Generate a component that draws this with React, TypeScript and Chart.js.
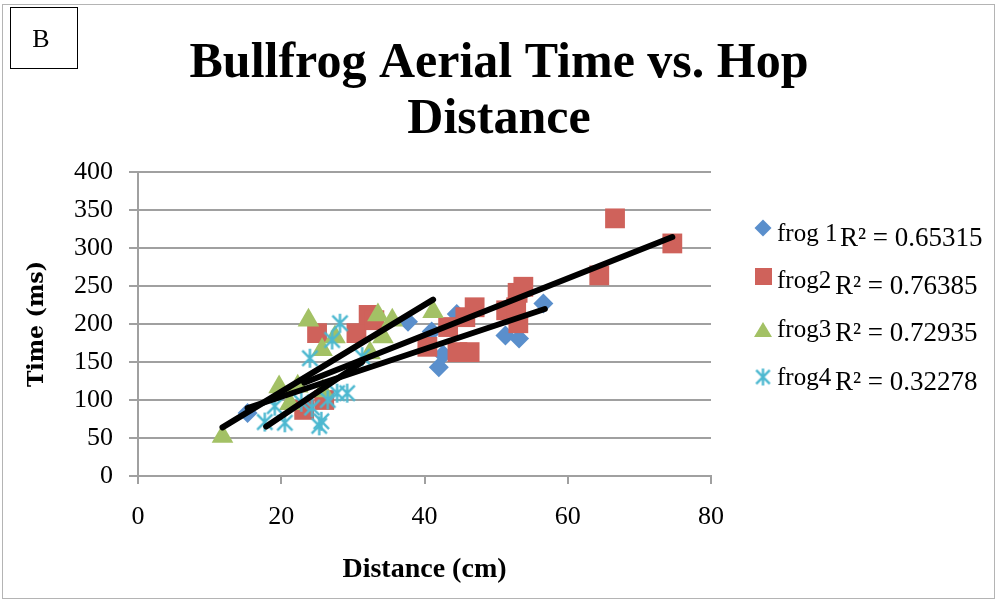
import React, { useEffect, useRef } from "react";
import { Chart, registerables } from "chart.js";

Chart.register(...registerables);

// ---- Data ----
const frog1X = [15.3, 37.7, 41.0, 44.5, 42.0, 42.6, 51.3, 53.2, 56.6];
const frog1Y = [83, 203, 190, 213, 143, 160, 185, 181, 227];

const frog2X = [23.2, 26.0, 25.0, 30.5, 32.2, 33.0, 40.4, 43.3, 45.7, 47.0, 44.6, 46.3, 51.4, 53.0, 53.8, 53.1, 52.8, 64.4, 66.6, 74.6];
const frog2Y = [87, 100, 188, 188, 212, 205, 170, 196, 209, 222, 163, 163, 218, 241, 249, 201, 222, 264, 339, 306];

const frog3X = [11.8, 19.7, 21.2, 22.3, 23.8, 25.8, 25.7, 27.5, 32.4, 33.5, 34.2, 35.5, 41.2];
const frog3Y = [52, 117, 95, 118, 205, 112, 166, 183, 162, 212, 183, 205, 216];

const frog4X = [17.7, 19.1, 20.5, 22.8, 24.0, 24.3, 25.3, 25.6, 26.5, 27.1, 27.8, 28.2, 29.2, 31.3];
const frog4Y = [71, 92, 70, 97, 155, 90, 66, 72, 100, 179, 109, 201, 109, 157];

// Linear trend lines (end points)
const trend1X = [15.3, 56.8];
const trend1Y = [89.5, 219.7];
const trend2X = [23.2, 74.6];
const trend2Y = [122.8, 314.5];
const trend3X = [11.8, 41.2];
const trend3Y = [64, 232];
const trend4X = [17.9, 31.3];
const trend4Y = [65, 150];

const seriesNames = ["frog 1", "frog2", "frog3", "frog4"];
const rSquared = ["R\u00B2 = 0.65315", "R\u00B2 = 0.76385", "R\u00B2 = 0.72935", "R\u00B2 = 0.32278"];

const xTickMin = 0;
const xTickMax = 80;
const xTickStep = 20;
const yTickMin = 0;
const yTickMax = 400;
const yTickStep = 50;

const titleLines = ["Bullfrog Aerial Time vs. Hop", "Distance"];
const xTitle = "Distance (cm)";
const yTitle = "Time (ms)";
const panelLabel = "B";

// ---- Styles ----
const BLUE = "#5a8fcc";
const RED = "#cf625b";
const GREEN = "#a3c165";
const CYAN = "#4cb8d0";
const GRID = "#a0a0a0";
const SERIF = "'Liberation Serif', 'Times New Roman', serif";

function pts(xs: number[], ys: number[]) {
  return xs.map((x, i) => ({ x, y: ys[i] }));
}

function makeStar(color: string, size: number): HTMLCanvasElement {
  const c = document.createElement("canvas");
  c.width = size;
  c.height = size;
  const ctx = c.getContext("2d")!;
  ctx.strokeStyle = color;
  ctx.lineWidth = 2.4;
  const m = size / 2;
  const r = size / 2 - 1;
  const d = r * 0.8;
  ctx.beginPath();
  ctx.moveTo(m - d, m - d);
  ctx.lineTo(m + d, m + d);
  ctx.moveTo(m + d, m - d);
  ctx.lineTo(m - d, m + d);
  ctx.moveTo(m, m - r);
  ctx.lineTo(m, m + r);
  ctx.stroke();
  return c;
}

export default function App() {
  const ref = useRef<HTMLCanvasElement | null>(null);

  useEffect(() => {
    document.body.style.margin = "0";
    const canvas = ref.current!;
    const star = makeStar(CYAN, 21);
    const legendStar = makeStar(CYAN, 19);

    const decor = {
      id: "decor",
      beforeDraw(chart: any) {
        const ctx = chart.ctx;
        ctx.save();
        ctx.fillStyle = "#ffffff";
        ctx.fillRect(0, 0, chart.width, chart.height);
        ctx.restore();
      },
      afterDraw(chart: any) {
        const ctx: CanvasRenderingContext2D = chart.ctx;
        ctx.save();
        // outer frame
        ctx.strokeStyle = "#b4b4b4";
        ctx.lineWidth = 1;
        ctx.strokeRect(2.5, 4.5, 992, 594);
        // panel label box
        ctx.strokeStyle = "#000";
        ctx.strokeRect(10.5, 7.5, 67, 61);
        ctx.fillStyle = "#000";
        ctx.font = `26px ${SERIF}`;
        ctx.textAlign = "center";
        ctx.textBaseline = "alphabetic";
        ctx.fillText(panelLabel, 41, 47);
        // title
        ctx.font = `bold 50px ${SERIF}`;
        ctx.fillText(titleLines[0], 499, 77);
        ctx.fillText(titleLines[1], 499, 133);

        // legend
        const mx = 763;
        const centers = [228, 276, 330, 377];
        const textBase = [241, 288, 337, 385];
        const rBase = [246, 294, 341, 390];
        const rX = [840, 835, 835, 835];
        // diamond
        ctx.fillStyle = BLUE;
        ctx.beginPath();
        ctx.moveTo(mx - 8.5, centers[0]);
        ctx.lineTo(mx, centers[0] - 8.5);
        ctx.lineTo(mx + 8.5, centers[0]);
        ctx.lineTo(mx, centers[0] + 8.5);
        ctx.closePath();
        ctx.fill();
        // square
        ctx.fillStyle = RED;
        ctx.fillRect(mx - 8, centers[1] - 8, 17, 17);
        // triangle
        ctx.fillStyle = GREEN;
        ctx.beginPath();
        ctx.moveTo(mx, centers[2] - 8);
        ctx.lineTo(mx + 9, centers[2] + 7);
        ctx.lineTo(mx - 9, centers[2] + 7);
        ctx.closePath();
        ctx.fill();
        // star
        ctx.drawImage(legendStar, mx - 9.5, centers[3] - 9.5);

        ctx.fillStyle = "#000";
        ctx.textAlign = "left";
        for (let i = 0; i < 4; i++) {
          ctx.font = `25px ${SERIF}`;
          ctx.fillText(seriesNames[i], 777, textBase[i]);
          ctx.font = `27px ${SERIF}`;
          ctx.fillText(rSquared[i], rX[i], rBase[i]);
        }
        ctx.restore();
      },
    };

    const trendStyle = {
      showLine: true,
      borderColor: "#000",
      borderWidth: 6,
      borderCapStyle: "round" as const,
      pointRadius: 0,
      pointHoverRadius: 0,
      fill: false,
      order: 0,
    };

    const chart = new Chart(canvas, {
      type: "scatter",
      data: {
        datasets: [
          {
            label: seriesNames[0],
            data: pts(frog1X, frog1Y),
            pointStyle: "rectRot",
            pointRadius: 10,
            backgroundColor: BLUE,
            borderColor: BLUE,
            borderWidth: 0,
            order: 4,
          },
          {
            label: seriesNames[1],
            data: pts(frog2X, frog2Y),
            pointStyle: "rect",
            pointRadius: 14,
            backgroundColor: RED,
            borderColor: RED,
            borderWidth: 0,
            order: 3,
          },
          {
            label: seriesNames[2],
            data: pts(frog3X, frog3Y),
            pointStyle: "triangle",
            pointRadius: 12.5,
            backgroundColor: GREEN,
            borderColor: GREEN,
            borderWidth: 0,
            order: 2,
          },
          {
            label: seriesNames[3],
            data: pts(frog4X, frog4Y),
            pointStyle: star as any,
            pointRadius: 10,
            backgroundColor: CYAN,
            borderColor: CYAN,
            order: 1,
          },
          { label: "t1", data: pts(trend1X, trend1Y), ...trendStyle },
          { label: "t2", data: pts(trend2X, trend2Y), ...trendStyle },
          { label: "t3", data: pts(trend3X, trend3Y), ...trendStyle },
          { label: "t4", data: pts(trend4X, trend4Y), ...trendStyle },
        ] as any,
      },
      options: {
        responsive: false,
        animation: false,
        devicePixelRatio: 1,
        layout: { padding: { top: 172, right: 286, left: 0, bottom: 0 } },
        plugins: {
          legend: { display: false },
          title: { display: false },
          tooltip: { enabled: false },
        },
        scales: {
          x: {
            type: "linear",
            min: xTickMin,
            max: xTickMax,
            ticks: {
              stepSize: xTickStep,
              color: "#000",
              font: { family: SERIF, size: 26 },
              padding: 18,
              maxRotation: 0,
            },
            grid: {
              drawOnChartArea: false,
              drawTicks: true,
              tickLength: 8,
              color: GRID,
              lineWidth: 2,
            },
            border: { color: GRID, width: 2 },
            title: {
              display: true,
              text: xTitle,
              color: "#000",
              font: { family: SERIF, size: 28, weight: "bold" },
              padding: { top: 0, bottom: 15 },
            },
            afterFit(scale: any) {
              scale.height = 126;
            },
          },
          y: {
            type: "linear",
            min: yTickMin,
            max: yTickMax,
            ticks: {
              stepSize: yTickStep,
              color: "#000",
              font: { family: SERIF, size: 26 },
              padding: 16,
            },
            grid: {
              drawTicks: true,
              tickLength: 9,
              color: GRID,
              lineWidth: 2,
            },
            border: { color: GRID, width: 2 },
            title: {
              display: true,
              text: yTitle,
              color: "#000",
              font: { family: "'DejaVu Serif', serif", size: 22, weight: "bold" },
              padding: { top: 24, bottom: 0 },
            },
            afterFit(scale: any) {
              scale.width = 138;
            },
          },
        },
      } as any,
      plugins: [decor],
    });

    return () => chart.destroy();
  }, []);

  return (
    <div style={{ position: "absolute", left: 0, top: 0, width: 997, height: 602 }}>
      <canvas ref={ref} width={997} height={602} style={{ width: 997, height: 602, display: "block" }} />
    </div>
  );
}
